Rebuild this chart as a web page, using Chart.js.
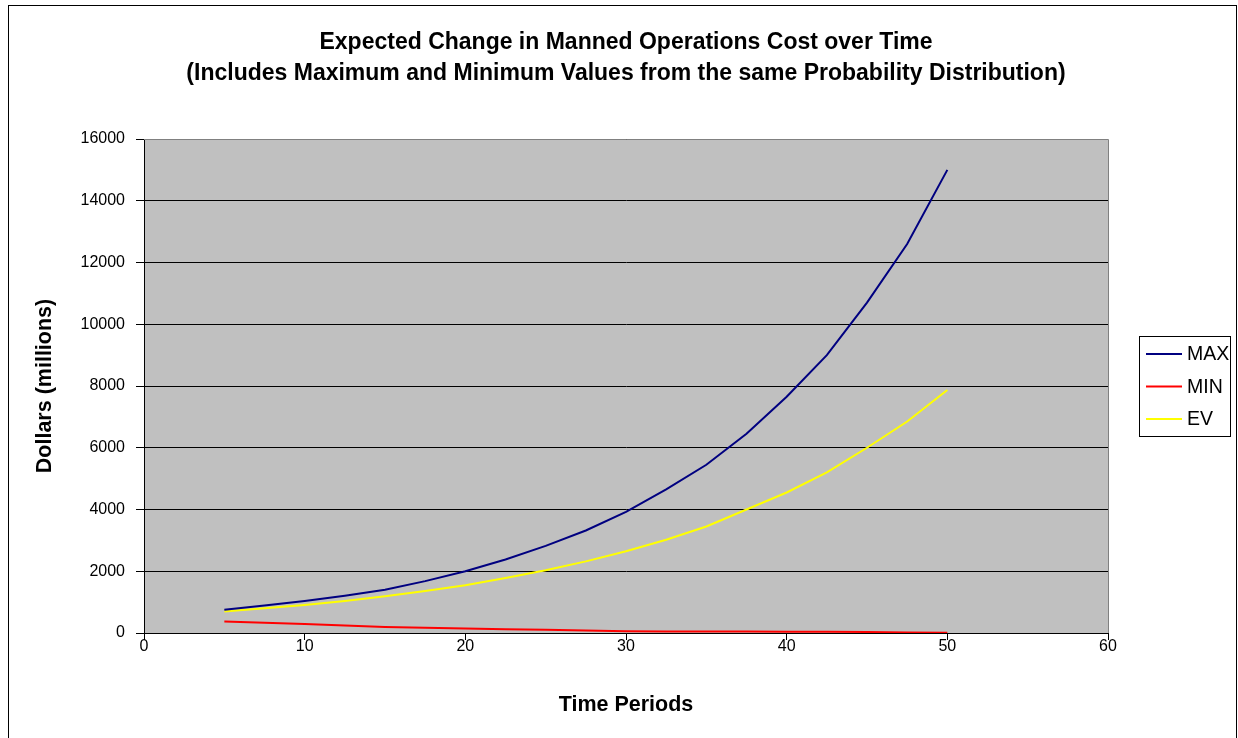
<!DOCTYPE html>
<html>
<head>
<meta charset="utf-8">
<script src="https://cdn.jsdelivr.net/npm/chart.js@4"></script>
<style>
  html, body { margin: 0; padding: 0; background: #ffffff; }
  #wrap { width: 1238px; height: 738px; }
</style>
</head>
<body>
<div id="wrap"><canvas id="c" width="1238" height="738"></canvas></div>
<script>
// ---- data ----
const timePeriods = [5, 7.5, 10, 12.5, 15, 17.5, 20, 22.5, 25, 27.5, 30, 32.5, 35, 37.5, 40, 42.5, 45, 47.5, 50];
const maxValues = [750, 890, 1040, 1210, 1400, 1680, 2000, 2380, 2820, 3320, 3920, 4650, 5450, 6450, 7650, 9000, 10700, 12600, 15000];
const minValues = [370, 330, 290, 240, 195, 170, 145, 125, 105, 80, 55, 50, 45, 45, 40, 40, 35, 20, 5];
const evValues = [700, 800, 910, 1040, 1190, 1360, 1550, 1780, 2030, 2320, 2650, 3020, 3450, 4000, 4550, 5200, 6000, 6850, 7870];
const seriesNames = ['MAX', 'MIN', 'EV'];
const seriesColors = ['#000080', '#FF0000', '#FFFF00'];
const titleLines = ['Expected Change in Manned Operations Cost over Time',
  '(Includes Maximum and Minimum Values from the same Probability Distribution)'];
const xTitle = 'Time Periods';
const yTitle = 'Dollars (millions)';

const FONT = "'Liberation Sans', Arial, sans-serif";

function toPoints(xs, ys) { return xs.map((x, i) => ({ x: x, y: ys[i] })); }

const seriesValues = [maxValues, minValues, evValues];
const datasets = seriesNames.map((name, i) => ({
  label: name,
  data: toPoints(timePeriods, seriesValues[i]),
  borderColor: seriesColors[i],
  backgroundColor: seriesColors[i],
  borderWidth: 2,
  pointRadius: 0,
  pointHoverRadius: 0,
  tension: 0,
  fill: false
}));

const decor = {
  id: 'decor',
  beforeDraw(chart) {
    const ctx = chart.ctx;
    const a = chart.chartArea;
    ctx.save();
    ctx.fillStyle = '#ffffff';
    ctx.fillRect(0, 0, chart.width, chart.height);
    ctx.strokeStyle = '#000000';
    ctx.lineWidth = 1;
    ctx.strokeRect(8.5, 5.5, 1228, 745);
    ctx.fillStyle = '#C0C0C0';
    ctx.fillRect(a.left, a.top, a.right - a.left, a.bottom - a.top);
    ctx.restore();
  },
  beforeDatasetsDraw(chart) {
    const ctx = chart.ctx;
    const a = chart.chartArea;
    ctx.save();
    ctx.strokeStyle = '#808080';
    ctx.lineWidth = 1;
    ctx.beginPath();
    ctx.moveTo(a.left, a.top + 0.5);
    ctx.lineTo(a.right + 0.5, a.top + 0.5);
    ctx.lineTo(a.right + 0.5, a.bottom);
    ctx.stroke();
    ctx.restore();
  },
  afterDraw(chart) {
    const ctx = chart.ctx;
    const a = chart.chartArea;
    ctx.save();
    // title
    ctx.fillStyle = '#000000';
    ctx.font = 'bold 23px ' + FONT;
    ctx.textAlign = 'center';
    ctx.textBaseline = 'middle';
    const cx = (a.left + a.right) / 2;
    ctx.fillText(titleLines[0], cx, 43);
    ctx.fillText(titleLines[1], cx, 74);
    // legend
    const lx = 1139.5, ly = 336.5, lw = 91, lh = 100;
    ctx.fillStyle = '#ffffff';
    ctx.fillRect(lx, ly, lw, lh);
    ctx.strokeStyle = '#000000';
    ctx.lineWidth = 1;
    ctx.strokeRect(lx, ly, lw, lh);
    ctx.font = '19.5px ' + FONT;
    ctx.textAlign = 'left';
    chart.data.datasets.forEach((ds, i) => {
      const y = 354 + i * 32.5;
      ctx.strokeStyle = ds.borderColor;
      ctx.lineWidth = 2;
      ctx.beginPath();
      ctx.moveTo(1146, y);
      ctx.lineTo(1182, y);
      ctx.stroke();
      ctx.fillStyle = '#000000';
      ctx.fillText(ds.label, 1187, y + 1);
    });
    ctx.restore();
  }
};

new Chart(document.getElementById('c'), {
  type: 'line',
  data: { datasets: datasets },
  plugins: [decor],
  options: {
    responsive: false,
    animation: false,
    events: [],
    layout: { padding: { left: 8, top: 139, right: 130, bottom: 15 } },
    plugins: {
      legend: { display: false },
      title: { display: false },
      tooltip: { enabled: false }
    },
    scales: {
      x: {
        type: 'linear',
        min: 0,
        max: 60,
        afterFit(scale) { scale.height = 90; },
        ticks: {
          stepSize: 10,
          color: '#000000',
          font: { family: FONT, size: 16 },
          padding: -3,
          maxRotation: 0
        },
        grid: {
          drawOnChartArea: false,
          drawTicks: true,
          tickLength: 7,
          color: '#000000'
        },
        border: { color: '#000000', width: 1 },
        title: {
          display: true,
          text: xTitle,
          color: '#000000',
          font: { family: FONT, size: 21.5, weight: 'bold' },
          padding: { top: 0, bottom: 5 }
        }
      },
      y: {
        type: 'linear',
        min: 0,
        max: 16000,
        afterFit(scale) { scale.width = 136; },
        ticks: {
          stepSize: 2000,
          color: '#000000',
          font: { family: FONT, size: 16 },
          padding: 11,
          callback: (v) => String(v)
        },
        grid: {
          color: '#000000',
          lineWidth: 1,
          tickLength: 8
        },
        border: { color: '#000000', width: 1 },
        title: {
          display: true,
          text: yTitle,
          color: '#000000',
          font: { family: FONT, size: 21.5, weight: 'bold' },
          padding: { top: 24, bottom: 0 }
        }
      }
    }
  }
});
</script>
</body>
</html>
